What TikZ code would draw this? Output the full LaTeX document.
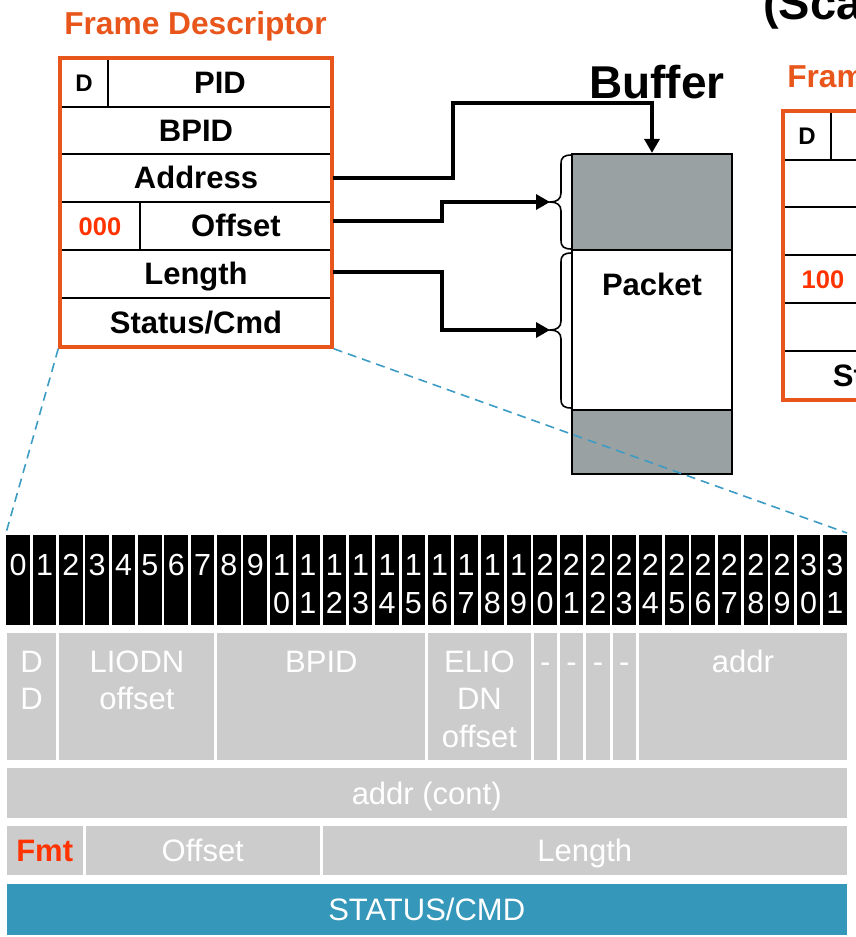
\documentclass[tikz,border=0pt]{standalone}
\usepackage{fontspec}
\setmainfont{Liberation Sans}
\usetikzlibrary{arrows.meta,calc}
\definecolor{fdorange}{HTML}{E8561B}
\definecolor{fdred}{HTML}{FF3300}
\definecolor{bufgray}{HTML}{9AA1A2}
\definecolor{fieldgray}{HTML}{CCCCCC}
\definecolor{statteal}{HTML}{3597B9}
\definecolor{dashblue}{HTML}{3D9CC4}
\newcommand\fsz[1]{\fontsize{#1}{#1}\selectfont}
\newcommand\fszml[2]{\fontsize{#1}{#2}\selectfont}
\tikzset{
  fdcell/.style={draw=black, line width=2pt, inner sep=0pt, text height=21.5pt, text depth=0pt, font=\bfseries\fsz{31}},
  fdframe/.style={draw=fdorange, line width=3.5pt, inner sep=0pt, minimum width=272, minimum height=289},
  fdtitle/.style={text=fdorange, font=\bfseries\fsz{31.7}, inner sep=0pt, anchor=base},
  conn/.style={line width=3.3pt, -{Triangle[length=14pt,width=15pt]}},
  bracepath/.style={line width=1.6pt},
  bufcell/.style={draw=black, line width=2.2pt, inner sep=0pt, minimum width=160},
  bitcell/.style={fill=black, inner sep=0pt, minimum width=23.6, minimum height=90},
  bittxt/.style={text=white, font=\fsz{30.5}, inner sep=0pt, anchor=base},
  field/.style={inner sep=0pt, anchor=north west},
  fieldtxt/.style={text=white, font=\fszml{31}{37.5}, inner sep=0pt, anchor=base, align=center},
  dashconn/.style={draw=dashblue, line width=1.6pt, dash pattern=on 9pt off 6pt},
}
\newcommand\fieldbox[6]{%
  \pgfmathsetmacro\fxa{5+#2*26.344+1.5}%
  \pgfmathsetmacro\fwd{(#3-#2)*26.344-3}%
  \pgfmathsetmacro\fht{#5-#4}%
  \node[field, fill=#6, minimum width=\fwd, minimum height=\fht] (#1) at (\fxa,#4) {};%
}
\begin{document}
\begin{tikzpicture}[x=1pt, y=-1pt]
\useasboundingbox (0,0) rectangle (856,937);
\clip (0,0) rectangle (856,937);

% ---------- bit number header ----------
\foreach \i in {0,...,31}{
  \pgfmathsetmacro\cx{5+(\i+0.5)*26.344}
  \node[bitcell] (bit\i) at (\cx,580) {};
  \ifnum\i<10
    \node[bittxt] (bitn\i) at (\cx,575) {\i};
  \else
    \pgfmathtruncatemacro\tens{\i/10}
    \pgfmathtruncatemacro\units{mod(\i,10)}
    \node[bittxt] (bitt\i) at (\cx,575) {\tens};
    \node[bittxt] (bitu\i) at (\cx,613) {\units};
  \fi
}

% ---------- field rows ----------
\fieldbox{fdd}{0}{2}{633}{760}{fieldgray}
\fieldbox{fliodn}{2}{8}{633}{760}{fieldgray}
\fieldbox{fbpid}{8}{16}{633}{760}{fieldgray}
\fieldbox{feliodn}{16}{20}{633}{760}{fieldgray}
\fieldbox{fra}{20}{21}{633}{760}{fieldgray}
\fieldbox{frb}{21}{22}{633}{760}{fieldgray}
\fieldbox{frc}{22}{23}{633}{760}{fieldgray}
\fieldbox{frd}{23}{24}{633}{760}{fieldgray}
\fieldbox{faddr}{24}{32}{633}{760}{fieldgray}
\fieldbox{faddrc}{0}{32}{768}{818}{fieldgray}
\fieldbox{ffmt}{0}{3}{826}{875}{fieldgray}
\fieldbox{foffs}{3}{12}{826}{875}{fieldgray}
\fieldbox{flen}{12}{32}{826}{875}{fieldgray}
\fieldbox{fstat}{0}{32}{884}{935}{statteal}

% (anchor=base of a multi-line node is the baseline of its last line)
\node[fieldtxt] (tdd) at ($(fdd.north)+(0,76.5)$) {D\\D};
\node[fieldtxt] (tliodn) at ($(fliodn.north)+(0,76.5)$) {LIODN\\offset};
\node[fieldtxt] (tbpid) at ($(fbpid.north)+(0,39)$) {BPID};
\node[fieldtxt] (teliodn) at ($(feliodn.north)+(0,114)$) {ELIO\\DN\\offset};
\node[fieldtxt] (tra) at ($(fra.north)+(0,39)$) {-};
\node[fieldtxt] (trb) at ($(frb.north)+(0,39)$) {-};
\node[fieldtxt] (trc) at ($(frc.north)+(0,39)$) {-};
\node[fieldtxt] (trd) at ($(frd.north)+(0,39)$) {-};
\node[fieldtxt] (taddr) at ($(faddr.north)+(0,39)$) {addr};
\node[fieldtxt] (taddrc) at ($(faddrc.north)+(0,36)$) {addr (cont)};
\node[fieldtxt, text=fdred, font=\bfseries\fsz{31}] (tfmt) at ($(ffmt.north)+(0,35)$) {Fmt};
\node[fieldtxt] (toffs) at ($(foffs.north)+(0,35)$) {Offset};
\node[fieldtxt] (tlen) at ($(flen.north)+(0,35)$) {Length};
\node[fieldtxt] (tstat) at ($(fstat.north)+(0,36)$) {STATUS/CMD};

% ---------- frame descriptor ----------
\node[fdtitle] (fdtitle) at (195.5,34) {Frame Descriptor};
\node[fdcell, minimum width=48, minimum height=49, font=\bfseries\fsz{24}, text height=17.2pt] (fdD) at (84,82.5) {D};
\node[fdcell, minimum width=224, minimum height=49] (fdPID) at (220,82.5) {PID};
\node[fdcell, minimum width=272, minimum height=47] (fdBPID) at (196,130.5) {BPID};
\node[fdcell, minimum width=272, minimum height=48] (fdAddr) at (196,178) {Address};
\node[fdcell, minimum width=80, minimum height=48, text=fdred, font=\bfseries\fsz{25.5}, text height=18.3pt] (fdFmt) at (100,226) {000};
\node[fdcell, minimum width=192, minimum height=48] (fdOff) at (236,226) {Offset};
\node[fdcell, minimum width=272, minimum height=48] (fdLen) at (196,274) {Length};
\node[fdcell, minimum width=272, minimum height=49] (fdStat) at (196,322.5) {Status/Cmd};
\node[fdframe] (fd) at (196,202.5) {};

% ---------- buffer ----------
\node[anchor=base, font=\bfseries\fsz{46}, inner sep=0pt] (buftitle) at (657,98) {Buffer};
\node[bufcell, fill=bufgray, minimum height=96] (buftop) at (652,202) {};
\node[bufcell, fill=white, minimum height=160] (bufpkt) at (652,330) {};
\node[bufcell, fill=bufgray, minimum height=64] (bufbot) at (652,442) {};
\node[anchor=base, font=\bfseries\fsz{31}, inner sep=0pt] (pkttxt) at (652,295) {Packet};

% braces
\coordinate (br1) at (550,202);
\coordinate (br2) at (550,330);
\draw[bracepath] (572,155) .. controls (564,155) and (561,157) .. (561,164) -- (561,193)
   .. controls (561,199) and (557,202) .. (br1)
   .. controls (557,202) and (561,205) .. (561,211) -- (561,240)
   .. controls (561,247) and (564,249) .. (572,249);
\draw[bracepath] (572,253) .. controls (564,253) and (561,255) .. (561,262) -- (561,321)
   .. controls (561,327) and (557,330) .. (br2)
   .. controls (557,330) and (561,333) .. (561,339) -- (561,399)
   .. controls (561,406) and (564,408) .. (572,408);

% connectors
\draw[conn] (fdAddr.east) -- ++(120,0) |- ($(buftop.north)+(0,-50)$) -- (buftop.north);
\draw[conn] ($(fdOff.east)+(0,-5)$) -- ++(109,0) |- (br1);
\draw[conn] ($(fdLen.east)+(0,-2)$) -- ++(109,0) |- (br2);

% dashed zoom lines
\coordinate (dl) at (6,533);
\coordinate (dr) at (847,533);
\draw[dashconn] (fd.south west) -- (dl);
\draw[dashconn] (fd.south east) -- (dr);

% ---------- second (cut off) frame descriptor ----------
\begin{scope}[shift={(723,53)}]
\node[fdtitle] (fdtitleb) at (195.5,34) {Frame Descriptor};
\node[fdcell, minimum width=48, minimum height=49, font=\bfseries\fsz{24}, text height=17.2pt] (fdbD) at (84,82.5) {D};
\node[fdcell, minimum width=224, minimum height=49] (fdbPID) at (220,82.5) {};
\node[fdcell, minimum width=272, minimum height=47] (fdbBPID) at (196,130.5) {};
\node[fdcell, minimum width=272, minimum height=48] (fdbAddr) at (196,178) {};
\node[fdcell, minimum width=80, minimum height=48, text=fdred, font=\bfseries\fsz{25.5}, text height=18.3pt] (fdbFmt) at (100,226) {100};
\node[fdcell, minimum width=192, minimum height=48] (fdbOff) at (236,226) {};
\node[fdcell, minimum width=272, minimum height=48] (fdbLen) at (196,274) {};
\node[fdcell, minimum width=272, minimum height=49] (fdbStat) at (196,322.5) {Status/Cmd};
\node[fdframe] (fdb) at (196,202.5) {};
\end{scope}

\node[anchor=base west, font=\bfseries\fsz{47}, inner sep=0pt] (sgtitle) at (763,19) {(Sca};
\end{tikzpicture}
\end{document}
